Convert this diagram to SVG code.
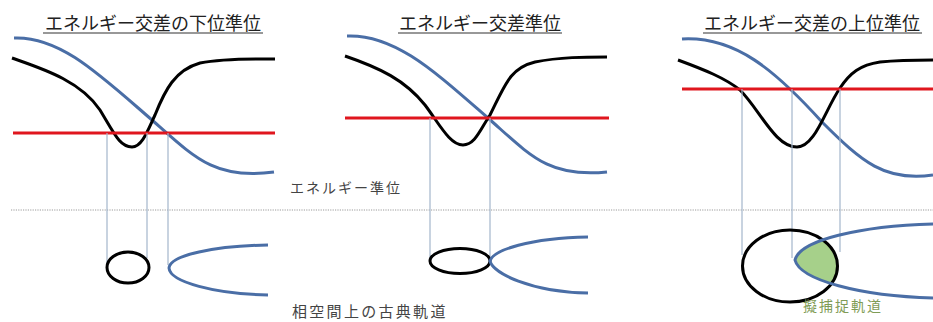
<svg xmlns="http://www.w3.org/2000/svg" width="933" height="322" viewBox="0 0 933 322">
<style>
.title{font-family:"Noto Sans CJK JP","Noto Sans",sans-serif;font-size:18px;fill:#222}
.ul{stroke:#333;stroke-width:1.2}
.lbl{font-family:"Noto Sans CJK JP","Noto Sans",sans-serif;font-size:14px;fill:#444;letter-spacing:2px}
.blk{fill:none;stroke:#000;stroke-width:3}
.blu{fill:none;stroke:#4a6ea6;stroke-width:3}
.red{stroke:#e0161e;stroke-width:3}
.vl{stroke:#a3b6cb;stroke-width:1.2}
</style>
<defs>
<clipPath id="ellClip"><ellipse cx="790" cy="266" rx="47.5" ry="36"/></clipPath>
</defs>
<rect width="933" height="322" fill="#fff"/>
<line x1="11" y1="210" x2="933" y2="210" stroke="#9a9a9a" stroke-width="1" stroke-dasharray="1.2,1.2"/>

<g id="panel1">
<text class="title" x="153" y="30" text-anchor="middle">エネルギー交差の下位準位</text>
<line class="ul" x1="43" y1="33" x2="263" y2="33"/>
<path class="blu" d="M14,38 C60,36 100,75 152,120 C195,158 215,180 274,172"/>
<path class="blk" d="M12,58 C40,68 80,80 100,110 C115,135 120,147 132,147 C142,147 148,130 155,115 C165,90 175,70 200,63 C225,58 255,59 275,59"/>
<line class="red" x1="13" y1="133" x2="275" y2="133"/>
<line class="vl" x1="107" y1="133" x2="107" y2="267"/>
<line class="vl" x1="147" y1="133" x2="147" y2="258"/>
<line class="vl" x1="168" y1="133" x2="168" y2="265"/>
<ellipse class="blk" cx="128" cy="267.5" rx="21" ry="15.5"/>
<path class="blu" d="M268,245 C215,246 170,255 169,268 C170,282 215,294 268,295"/>
</g>

<g id="panel2">
<text class="title" x="480" y="30" text-anchor="middle">エネルギー交差準位</text>
<line class="ul" x1="398" y1="33" x2="562" y2="33"/>
<path class="blu" d="M347,36 C395,34 435,72 488,118 C530,155 548,178 607,172"/>
<path class="blk" d="M345,56 C380,68 405,80 425,105 C440,125 450,145 463,145 C475,145 480,130 490,115 C505,85 510,68 535,62 C560,57 585,57 607,57"/>
<line class="red" x1="345" y1="118" x2="609" y2="118"/>
<line class="vl" x1="430" y1="118" x2="430" y2="261"/>
<line class="vl" x1="490" y1="118" x2="490" y2="261"/>
<ellipse class="blk" cx="460" cy="261" rx="30" ry="12.5"/>
<path class="blu" d="M588,237 C530,238 493,250 490,261 C493,273 530,292 588,293"/>
</g>

<g id="panel3">
<text class="title" x="812" y="30" text-anchor="middle">エネルギー交差の上位準位</text>
<line class="ul" x1="703" y1="33" x2="922" y2="33"/>
<path class="blu" d="M682,39 C735,36 775,70 822,122 C862,162 885,182 933,175"/>
<path class="blk" d="M678,60 C705,70 725,78 740,90 C760,110 775,147 797,147 C815,147 825,110 840,88 C850,73 860,65 880,62 C900,60 920,60 933,60"/>
<line class="red" x1="682" y1="89" x2="933" y2="89"/>
<line class="vl" x1="742" y1="89" x2="742" y2="255"/>
<line class="vl" x1="792" y1="89" x2="792" y2="258"/>
<line class="vl" x1="840" y1="89" x2="840" y2="252"/>
<path d="M933,224 C860,226 800,240 795,260 C800,280 860,296 933,298 Z" fill="#a6d08a" stroke="none" clip-path="url(#ellClip)"/>
<ellipse class="blk" cx="790" cy="266" rx="47.5" ry="36"/>
<path class="blu" d="M933,224 C860,226 800,240 795,260 C800,280 860,296 933,298"/>
</g>

<g id="labels">
<text class="lbl" x="290" y="193">エネルギー準位</text>
<text class="lbl" x="292" y="317" style="font-size:15px;letter-spacing:2.3px">相空間上の古典軌道</text>
<text class="lbl" x="803" y="311" style="fill:#7f9c56">擬捕捉軌道</text>
</g>
</svg>
